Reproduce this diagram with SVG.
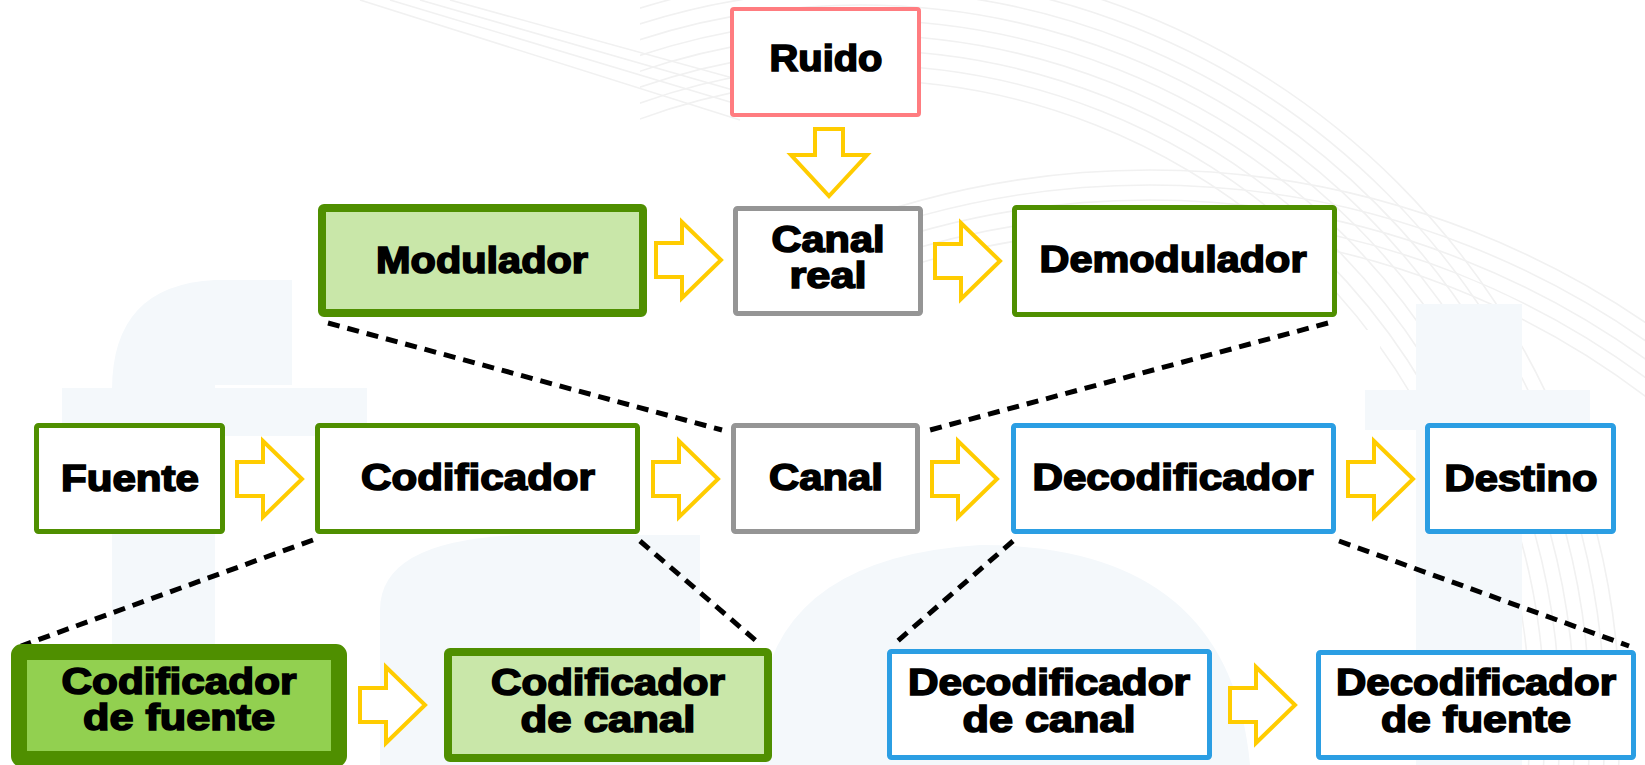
<svg xmlns="http://www.w3.org/2000/svg" width="1645" height="765" viewBox="0 0 1645 765">
  <defs>
    <style>
      .bg-glyph { fill: #F4F8FB; }
      .bg-arc { fill: none; stroke: #F1F1F1; stroke-width: 1.6; }
      .box { fill: #FFFFFF; stroke-linejoin: round; }
      .green { stroke: #4F8F00; stroke-width: 5; }
      .green-mid { fill: #C9E7A9; stroke: #4F8F00; stroke-width: 8; }
      .green-dark { fill: #92D050; stroke: #4F8F00; stroke-width: 16; }
      .blue { stroke: #2B9EE3; stroke-width: 5; }
      .gray { stroke: #959595; stroke-width: 5; }
      .red { stroke: #FF7C80; stroke-width: 4; }
      .label { font-family: "Liberation Sans", Arial, sans-serif; font-weight: bold; font-size: 36px; fill: #000; stroke: #000; stroke-width: 1.6; text-anchor: middle; }
      .flow { fill: #FFFFFF; stroke: #FFCC00; stroke-width: 4; stroke-linejoin: miter; }
      .zoom { fill: none; stroke: #000; stroke-width: 5; stroke-dasharray: 12 8; }
    </style>
    <clipPath id="arcClip">
      <path d="M640,0 H1645 V765 H1380 V330 H1000 L640,120 Z"/>
    </clipPath>
    <!-- block arrow, tail at (0,0), pointing right -->
    <path id="blockArrow" d="M0,-17 H26 V-38 L65,0 L26,38 V17 H0 Z"/>
  </defs>

  <rect width="1645" height="765" fill="#FFFFFF"/>

  <!-- faint backdrop -->
  <g id="backdrop">
    <g class="bg-arc" clip-path="url(#arcClip)">
      <circle cx="860" cy="720" r="640"/>
      <circle cx="860" cy="720" r="655"/>
      <circle cx="860" cy="720" r="670"/>
      <circle cx="860" cy="720" r="685"/>
      <circle cx="860" cy="720" r="700"/>
      <circle cx="860" cy="720" r="715"/>
      <circle cx="860" cy="720" r="730"/>
      <circle cx="860" cy="720" r="745"/>
      <circle cx="860" cy="720" r="760"/>
      <circle cx="1150" cy="1050" r="820"/>
      <circle cx="1150" cy="1050" r="835"/>
      <circle cx="1150" cy="1050" r="850"/>
      <circle cx="1150" cy="1050" r="865"/>
      <circle cx="1150" cy="1050" r="880"/>
    </g>
    <g class="bg-arc">
      <line x1="360" y1="0" x2="740" y2="120"/>
      <line x1="390" y1="0" x2="740" y2="105"/>
      <line x1="420" y1="0" x2="740" y2="92"/>
      <line x1="450" y1="0" x2="740" y2="80"/>
    </g>
    <g class="bg-glyph">
      <path d="M112,765 V390 Q112,285 215,280 H292 V385 H215 V765 Z"/>
      <rect x="62" y="388" width="305" height="48"/>
      <path d="M380,765 V610 Q380,540 520,535 H700 V765 Z"/>
      <path d="M760,765 Q740,560 980,545 Q1230,545 1250,765 Z"/>
      <rect x="1416" y="304" width="106" height="461"/>
      <rect x="1365" y="390" width="225" height="40"/>
    </g>
  </g>

  <!-- connectors: block arrows and dashed detail lines -->
  <g id="connectors">
    <use href="#blockArrow" class="flow" transform="translate(656,260)"/>
    <use href="#blockArrow" class="flow" transform="translate(935,261)"/>
    <use href="#blockArrow" class="flow" transform="translate(237,479)"/>
    <use href="#blockArrow" class="flow" transform="translate(653,479)"/>
    <use href="#blockArrow" class="flow" transform="translate(932,479)"/>
    <use href="#blockArrow" class="flow" transform="translate(1348,479)"/>
    <use href="#blockArrow" class="flow" transform="translate(360,705)"/>
    <use href="#blockArrow" class="flow" transform="translate(1230,705)"/>
    <path class="flow" d="M815,129 H843 V155 H867 L829,196 L791,155 H815 Z"/>

    <line class="zoom" x1="328" y1="323" x2="722" y2="430"/>
    <line class="zoom" x1="1328" y1="323" x2="930" y2="430"/>
    <line class="zoom" x1="313" y1="540" x2="21" y2="646"/>
    <line class="zoom" x1="640" y1="541" x2="761" y2="645"/>
    <line class="zoom" x1="1013" y1="541" x2="893" y2="645"/>
    <line class="zoom" x1="1339" y1="541" x2="1629" y2="646"/>
  </g>

  <g id="ruido">
    <rect class="box red" x="732" y="9" width="187" height="106" rx="2"/>
    <text class="label" x="826" y="71" textLength="113" lengthAdjust="spacingAndGlyphs">Ruido</text>
  </g>

  <g id="modulador">
    <rect class="green-mid" x="322" y="208" width="321" height="105" rx="2"/>
    <text class="label" x="482" y="273" textLength="212" lengthAdjust="spacingAndGlyphs">Modulador</text>
  </g>

  <g id="canal-real">
    <rect class="box gray" x="735.5" y="208.5" width="185" height="105" rx="2"/>
    <text class="label" x="828" y="252" textLength="113" lengthAdjust="spacingAndGlyphs">Canal</text>
    <text class="label" x="828" y="288" textLength="77" lengthAdjust="spacingAndGlyphs">real</text>
  </g>

  <g id="demodulador">
    <rect class="box green" x="1014.5" y="207.5" width="320" height="107" rx="2"/>
    <text class="label" x="1173" y="272" textLength="267" lengthAdjust="spacingAndGlyphs">Demodulador</text>
  </g>

  <g id="fuente">
    <rect class="box green" x="36.5" y="425.5" width="186" height="106" rx="2"/>
    <text class="label" x="130" y="491" textLength="138" lengthAdjust="spacingAndGlyphs">Fuente</text>
  </g>

  <g id="codificador">
    <rect class="box green" x="317.5" y="425.5" width="320" height="106" rx="2"/>
    <text class="label" x="478" y="490" textLength="234" lengthAdjust="spacingAndGlyphs">Codificador</text>
  </g>

  <g id="canal">
    <rect class="box gray" x="733.5" y="425.5" width="184" height="106" rx="2"/>
    <text class="label" x="826" y="490" textLength="114" lengthAdjust="spacingAndGlyphs">Canal</text>
  </g>

  <g id="decodificador">
    <rect class="box blue" x="1013.5" y="425.5" width="320" height="106" rx="2"/>
    <text class="label" x="1173" y="490" textLength="281" lengthAdjust="spacingAndGlyphs">Decodificador</text>
  </g>

  <g id="destino">
    <rect class="box blue" x="1427.5" y="425.5" width="186" height="106" rx="2"/>
    <text class="label" x="1521" y="491" textLength="153" lengthAdjust="spacingAndGlyphs">Destino</text>
  </g>

  <g id="codificador-fuente">
    <rect class="green-dark" x="19" y="652" width="320" height="107" rx="3"/>
    <text class="label" x="179" y="694" textLength="235" lengthAdjust="spacingAndGlyphs">Codificador</text>
    <text class="label" x="179" y="730" textLength="192" lengthAdjust="spacingAndGlyphs">de fuente</text>
  </g>

  <g id="codificador-canal">
    <rect class="green-mid" x="448" y="652" width="320" height="106" rx="2"/>
    <text class="label" x="608" y="695" textLength="234" lengthAdjust="spacingAndGlyphs">Codificador</text>
    <text class="label" x="608" y="732" textLength="175" lengthAdjust="spacingAndGlyphs">de canal</text>
  </g>

  <g id="decodificador-canal">
    <rect class="box blue" x="889.5" y="651.5" width="320" height="106" rx="2"/>
    <text class="label" x="1049" y="695" textLength="282" lengthAdjust="spacingAndGlyphs">Decodificador</text>
    <text class="label" x="1049" y="732" textLength="173" lengthAdjust="spacingAndGlyphs">de canal</text>
  </g>

  <g id="decodificador-fuente">
    <rect class="box blue" x="1318.5" y="652.5" width="315" height="105" rx="2"/>
    <text class="label" x="1476" y="695" textLength="280" lengthAdjust="spacingAndGlyphs">Decodificador</text>
    <text class="label" x="1476" y="732" textLength="190" lengthAdjust="spacingAndGlyphs">de fuente</text>
  </g>
</svg>
